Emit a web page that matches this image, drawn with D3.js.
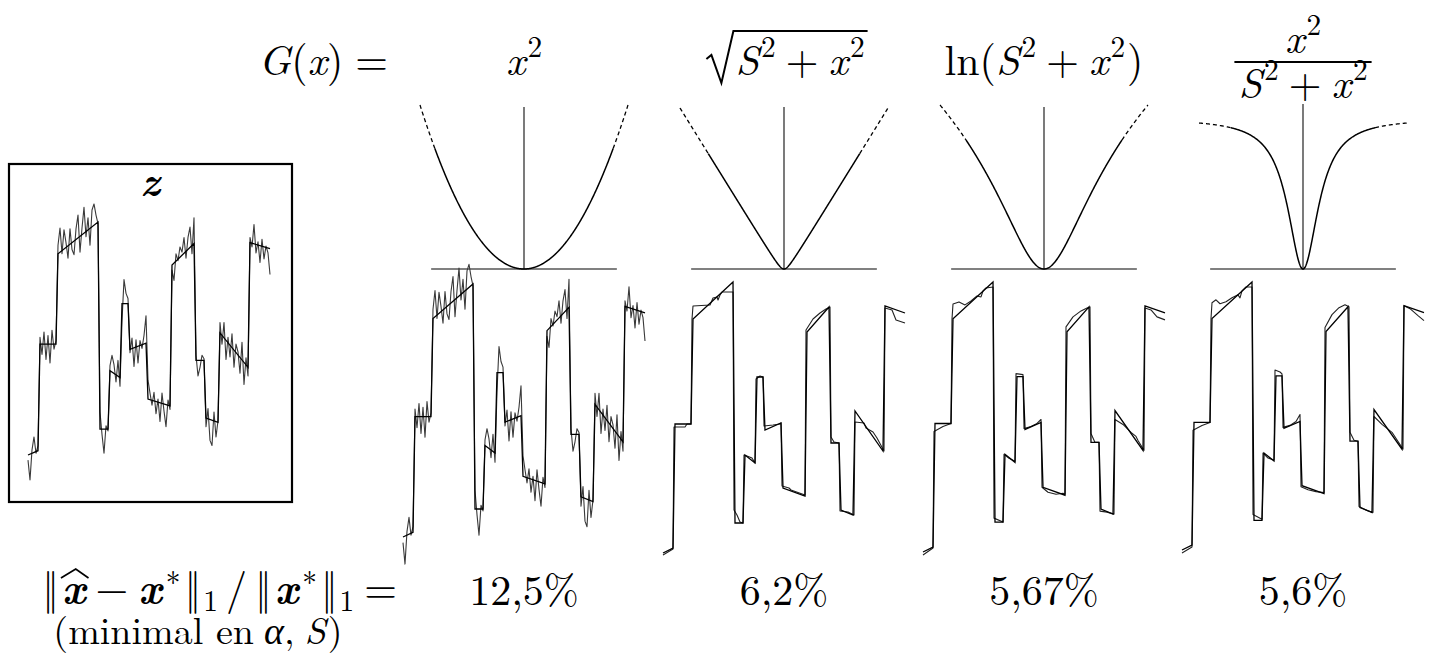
<!DOCTYPE html>
<html>
<head>
<meta charset="utf-8">
<script src="https://cdn.jsdelivr.net/npm/d3@7"></script>
<style>
  html, body { margin: 0; padding: 0; background: #fff; }
  svg { display: block; }
</style>
</head>
<body>
<svg width="1437" height="656"></svg>
<script>
// sample positions of the signals (index axis)
const sampleT = d3.range(0, 243, 2);

// noisy observation z (one value per sample)
const zValues = [-6, -29, 6, 21, 2, 11,
  137, 117, 143, 111, 139, 107, 145, 123, 133,
  244, 264, 234, 262, 247, 229, 263, 239, 233, 263, 279, 236, 264, 288, 254, 276, 244, 285, 292, 279, 269,
  50, 24, 2, 34, 28,
  104, 116, 105, 85, 110, 80,
  156, 204, 188, 182,
  119, 136, 103, 134, 107, 133, 124, 139, 162,
  87, 72, 58, 73, 48, 65, 39, 72, 51, 33, 64, 53,
  215, 203, 234, 226, 242, 236, 253, 229, 253, 265, 234, 276,
  116, 92, 102, 116, 112,
  33, 54, 17, 11, 50, 21, 40,
  154, 129, 154, 111, 137, 114, 141, 102, 129, 120, 95, 131, 82, 113, 92,
  253, 242, 268, 235, 248, 224, 251, 228, 243, 235, 210];

// true signal x* : segment end points
const xStarT = [0, 10, 12, 28, 30, 70, 72, 80, 82, 92, 94, 100, 102, 118, 120, 142, 144, 166, 168, 176, 178, 190, 192, 220, 222, 242];
const xStarV = [0, 5, 129, 129, 234, 271, 30, 30, 98, 90, 176, 176, 123, 130, 65, 57, 221, 246, 110, 110, 43, 38, 142, 102, 247, 240];

// estimates for sqrt, ln and Cauchy penalties
const estSqrt = [[0, -2], [10, 4], [11, 126], [22, 126], [24, 129], [28, 129],
  [29, 234], [30, 247], [47, 248], [50, 255], [54, 256], [55, 253], [57, 258], [59, 261], [70, 261],
  [71, 43], [74, 38], [77, 31], [80, 30], [81, 98], [84, 97], [89, 95], [92, 90],
  [93, 174], [97, 177], [100, 176], [101, 127], [110, 128], [117, 129], [118, 130],
  [119, 67], [126, 65], [128, 63], [142, 58], [143, 223], [150, 234], [157, 240], [163, 244], [167, 246],
  [168, 116], [171, 111], [176, 110], [177, 42], [185, 41], [191, 38],
  [192, 131], [201, 130], [203, 125], [210, 121], [214, 115], [221, 102],
  [222, 245], [229, 243], [233, 233], [242, 230]];
const estLn = [[0, -3], [10, 4], [11, 121], [20, 126], [28, 129],
  [29, 234], [30, 249], [36, 251], [42, 248], [48, 252], [54, 257], [58, 256], [60, 262], [63, 265], [70, 266],
  [71, 34], [80, 30], [81, 98], [86, 94], [92, 91], [93, 179], [100, 178],
  [101, 124], [108, 126], [114, 129], [118, 133], [119, 65], [125, 60], [133, 58], [140, 59], [142, 58],
  [143, 226], [150, 236], [158, 242], [164, 245], [167, 246], [168, 119], [172, 110], [176, 110],
  [177, 41], [184, 40], [191, 38], [192, 133], [200, 128], [208, 120], [213, 116], [215, 112], [221, 102],
  [222, 245], [228, 243], [234, 236], [242, 233]];
const estCauchy = [[0, -3], [10, 3], [11, 121], [20, 126], [28, 129],
  [29, 234], [30, 250], [34, 253], [38, 249], [44, 251], [50, 255], [56, 258], [58, 255], [60, 262], [64, 266], [70, 266],
  [71, 36], [80, 31], [81, 98], [86, 93], [92, 91], [93, 182], [98, 180], [100, 178],
  [101, 124], [108, 126], [114, 130], [118, 137], [119, 64], [126, 61], [134, 59], [142, 58],
  [143, 225], [150, 238], [157, 245], [163, 248], [167, 246], [168, 119], [172, 111], [176, 110],
  [177, 44], [185, 40], [191, 38], [192, 135], [200, 127], [210, 119], [221, 102],
  [222, 247], [228, 244], [236, 237], [242, 232]];

const errorLabels = ["12,5%", "6,2%", "5,67%", "5,6%"];
const penaltyS = [0, 0.06, 0.45, 0.25];

const FS = 42;
const serif = "'Latin Modern Roman', 'CMU Serif', 'Liberation Serif', 'DejaVu Serif', serif";
const svg = d3.select("svg");

// one <text> per formula, pieces laid out as tspans
function mathText(parent, pieces, x, y, anchor, fs) {
  fs = fs || FS;
  const t = parent.append("text")
    .attr("x", x).attr("y", y)
    .attr("text-anchor", anchor)
    .style("font-family", serif)
    .style("font-size", fs + "px");
  let cur = 0, pending = 0;
  pieces.forEach(p => {
    const target = p.sup ? -fs * 0.42 : p.sub ? fs * 0.2 : 0;
    t.append("tspan")
      .attr("dx", (p.pre || 0) + pending)
      .attr("dy", target - cur)
      .style("font-size", (p.sup || p.sub) ? (fs * 0.7) + "px" : null)
      .style("font-style", p.it ? "italic" : null)
      .style("font-weight", p.b ? "bold" : null)
      .text(p.t);
    cur = target;
    pending = p.post || 0;
  });
  return t;
}

// S^2 + x^2, shared by three titles
const sumSquares = [{ t: "S", it: 1 }, { t: "2", sup: 1, pre: 2, post: 10 }, { t: "+", post: 10 },
  { t: "x", it: 1 }, { t: "2", sup: 1, pre: 2 }];

const centers = [524, 784, 1044, 1303];
const sigBottom = [537, 553, 552, 550];
const sigTop = [284, 282, 282, 282];

// ---- titles
mathText(svg, [{ t: "G", it: 1 }, { t: "(" }, { t: "x", it: 1 }, { t: ")", post: 12 }, { t: "=" }], 388, 75, "end");
mathText(svg, [{ t: "x", it: 1 }, { t: "2", sup: 1, pre: 2 }], centers[0], 75, "middle");

const sqPieces = sumSquares.map(p => Object.assign({}, p));
sqPieces[0].pre = 30;
const sqText = mathText(svg, sqPieces, centers[1] - 14, 75, "middle");
const radical = svg.append("path")
  .attr("fill", "none").attr("stroke", "#000").attr("stroke-width", 2);

mathText(svg, [{ t: "ln(" }].concat(sumSquares, [{ t: ")", pre: 2 }]), centers[2], 75, "middle");

mathText(svg, [{ t: "x", it: 1 }, { t: "2", sup: 1, pre: 2 }], centers[3], 53, "middle");
const denText = mathText(svg, sumSquares, centers[3], 98, "middle");
const fracBar = svg.append("line")
  .attr("y1", 62).attr("y2", 62)
  .attr("stroke", "#000").attr("stroke-width", 2);

// ---- penalty curves
const gFuncs = [
  x => x * x,
  x => Math.sqrt(penaltyS[1] ** 2 + x * x) - penaltyS[1],
  x => Math.log(1 + x * x / (penaltyS[2] ** 2)),
  x => x * x / (penaltyS[3] ** 2 + x * x)
];
const curveTop = [105, 108, 105, 123];
const solidLim = [1.2, 1.02, 1.05, 0.97];
const axisY = 269;

centers.forEach((cx, i) => {
  const gx = d3.scaleLinear().domain([-1.4, 1.4]).range([cx - 104, cx + 104]);
  const gy = d3.scaleLinear().domain([0, gFuncs[i](1.4)]).range([axisY, curveTop[i]]);
  const line = d3.line().x(d => gx(d)).y(d => gy(gFuncs[i](d)));
  const g = svg.append("g");

  g.append("line")
    .attr("x1", gx(-1.25)).attr("x2", gx(1.25))
    .attr("y1", axisY).attr("y2", axisY)
    .attr("stroke", "#808080").attr("stroke-width", 2);
  g.append("line")
    .attr("x1", gx(0)).attr("x2", gx(0))
    .attr("y1", i === 3 ? 104 : 107).attr("y2", axisY)
    .attr("stroke", "#333").attr("stroke-width", 1.3);

  const lim = solidLim[i];
  g.append("path").datum(d3.range(-lim, lim + 1e-9, 0.005))
    .attr("d", line).attr("fill", "none").attr("stroke", "#000").attr("stroke-width", 1.5);
  [[-1.4, -lim], [lim, 1.4]].forEach(r => {
    g.append("path").datum(d3.range(r[0], r[1] + 1e-9, 0.005))
      .attr("d", line).attr("fill", "none").attr("stroke", "#000")
      .attr("stroke-width", 1.3).attr("stroke-dasharray", "4,3");
  });
});

// ---- signals
const truePts = xStarT.map((t, i) => [t, xStarV[i]]);
const zPts = sampleT.map((t, i) => [t, zValues[i]]);

function drawSignal(x0, x1, yb, yt, est, estColor) {
  const xs = d3.scaleLinear().domain([0, 242]).range([x0, x1]);
  const ys = d3.scaleLinear().domain([0, 271]).range([yb, yt]);
  const line = d3.line().x(d => xs(d[0])).y(d => ys(d[1]));
  svg.append("path").datum(est).attr("d", line)
    .attr("fill", "none").attr("stroke", estColor).attr("stroke-width", 1.1)
    .attr("stroke-linejoin", "round");
  svg.append("path").datum(truePts).attr("d", line)
    .attr("fill", "none").attr("stroke", "#000").attr("stroke-width", 1.3);
}

// observation box
svg.append("rect").attr("x", 9).attr("y", 164).attr("width", 283).attr("height", 338)
  .attr("fill", "none").attr("stroke", "#000").attr("stroke-width", 2.2);
svg.append("text").attr("x", 150).attr("y", 195).attr("text-anchor", "middle")
  .style("font-family", serif).style("font-size", "40px").style("font-style", "italic")
  .style("font-weight", "bold").text("z");
drawSignal(28, 270, 455, 222, zPts, "#3a3a3a");

const estimates = [zPts, estSqrt, estLn, estCauchy];
centers.forEach((cx, i) => {
  drawSignal(cx - 121, cx + 121, sigBottom[i], sigTop[i], estimates[i], i === 0 ? "#3a3a3a" : "#222");
});

// ---- error row
const rowY = 603;
const errText = mathText(svg, [
  { t: "‖" }, { t: "x", it: 1, b: 1, pre: 3 }, { t: "−", pre: 10, post: 10 }, { t: "x", it: 1, b: 1 },
  { t: "∗", sup: 1, pre: 4 }, { t: "‖", pre: 4 }, { t: "1", sub: 1, pre: 2 }, { t: "/", pre: 8, post: 8 },
  { t: "‖" }, { t: "x", it: 1, b: 1, pre: 3 }, { t: "∗", sup: 1, pre: 4 }, { t: "‖", pre: 4 },
  { t: "1", sub: 1, pre: 2, post: 10 }, { t: "=" }
], 397, rowY, "end");
const hat = svg.append("path")
  .attr("fill", "none").attr("stroke", "#000").attr("stroke-width", 1.7);

mathText(svg, [{ t: "(minimal en", post: 10 }, { t: "α", it: 1 }, { t: ",", post: 10 }, { t: "S", it: 1 }, { t: ")", pre: 2 }],
  198, 644, "middle", 38);

errorLabels.forEach((s, i) => {
  svg.append("text").attr("x", centers[i]).attr("y", 605).attr("text-anchor", "middle")
    .style("font-family", serif).style("font-size", FS + "px").text(s);
});

// radical, fraction bar and hat follow the measured text
function decorate() {
  const sn = sqText.node();
  const n = sn.getNumberOfChars();
  const s0 = sn.getStartPositionOfChar(0).x;
  const s1 = sn.getEndPositionOfChar(n - 1).x;
  radical.attr("d", `M${s0 - 29},${75 - 16} L${s0 - 24},${75 - 20} L${s0 - 14},${75 + 8} ` +
    `L${s0 - 2},${75 - 44} L${s1 + 3},${75 - 44}`);

  const bb = denText.node().getBBox();
  fracBar.attr("x1", bb.x - 4).attr("x2", bb.x + bb.width + 4);

  const en = errText.node();
  const h0 = en.getStartPositionOfChar(1).x;
  const h1 = en.getEndPositionOfChar(1).x;
  hat.attr("d", `M${h0 - 1},${rowY - 25} L${(h0 + h1) / 2 + 2},${rowY - 34} L${h1 + 3},${rowY - 25}`);
}
decorate();
if (document.fonts) document.fonts.ready.then(decorate);
</script>
</body>
</html>
